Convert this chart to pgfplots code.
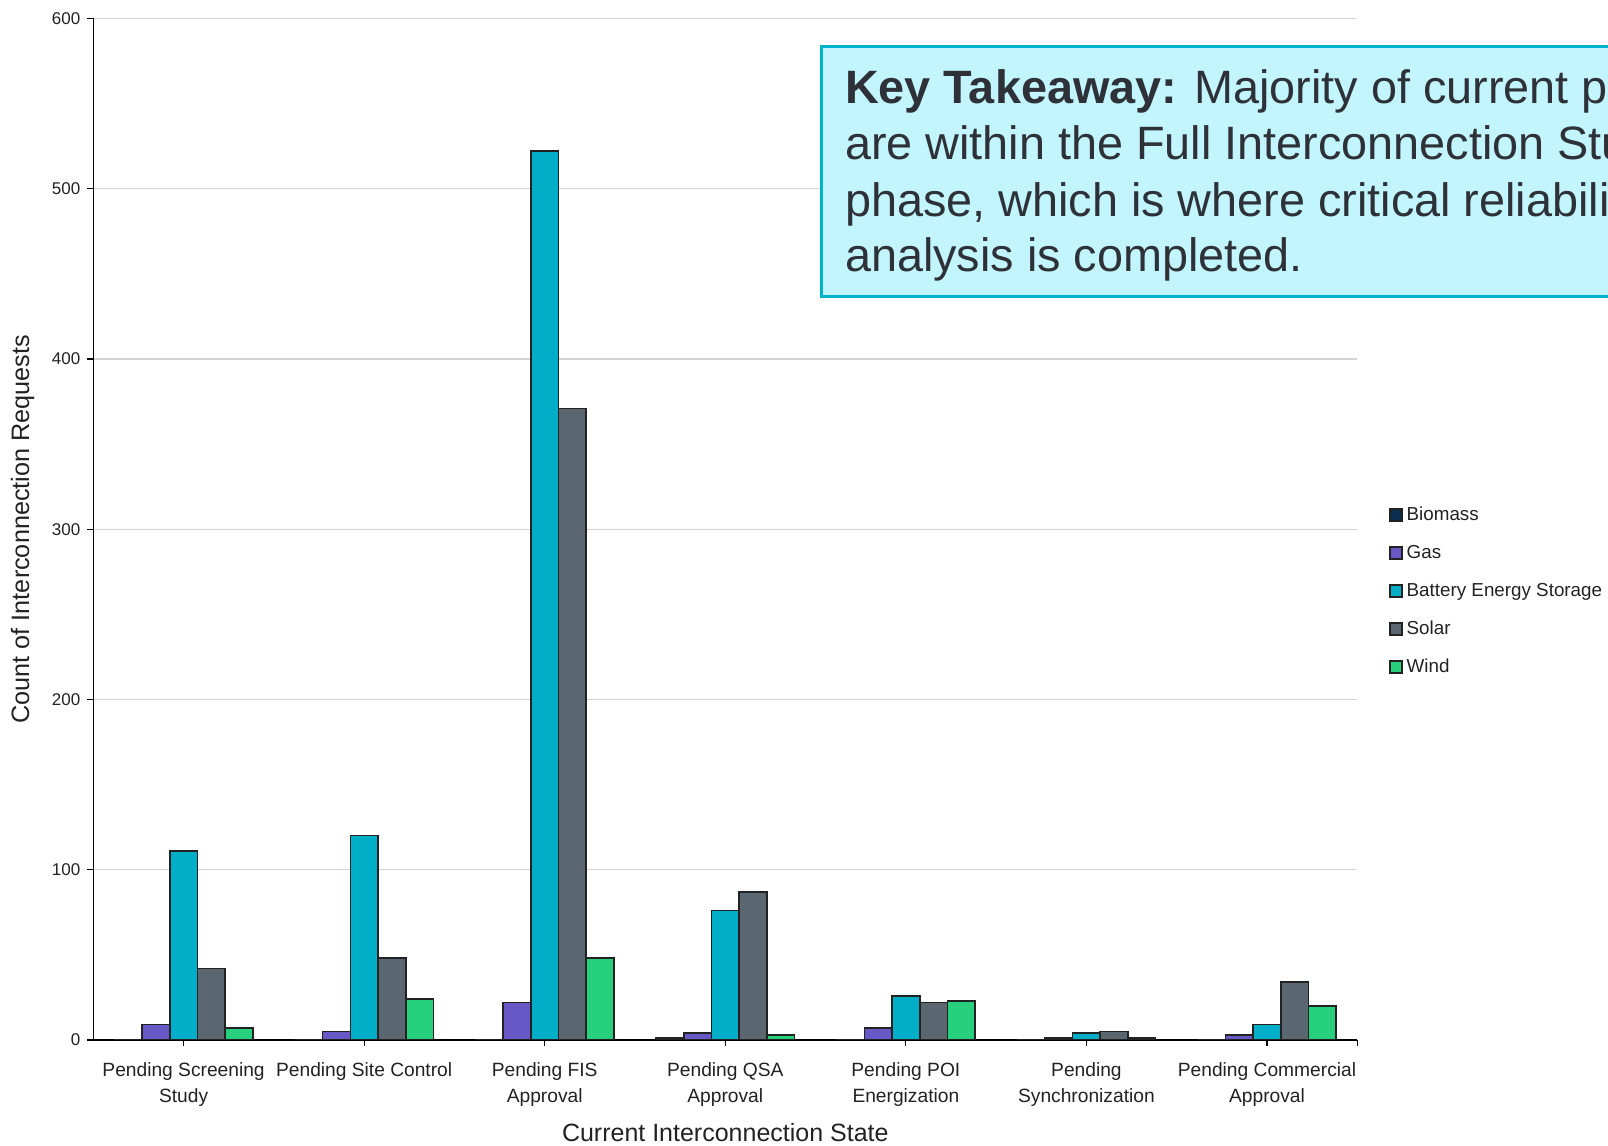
\documentclass[border=0pt]{standalone}
\usepackage{pgfplots}
\usepackage{pgfplotstable}
\pgfplotsset{compat=1.18}
\usepackage{fontspec}
\setmainfont{Liberation Sans}
\definecolor{cBio}{HTML}{0B2D4E}
\definecolor{cGas}{HTML}{6858C6}
\definecolor{cBes}{HTML}{00AEC7}
\definecolor{cSol}{HTML}{5A6670}
\definecolor{cWind}{HTML}{26D07C}
\definecolor{boxfill}{HTML}{C2F5FD}
\definecolor{boxedge}{HTML}{00B2CB}
\definecolor{txt}{HTML}{2E3238}
\definecolor{lbl}{HTML}{222222}
\definecolor{edge}{HTML}{222222}
\pgfplotsset{sqleg/.style={legend image code/.code={\draw[##1,line width=0.7pt] (0pt,-3pt) rectangle (6pt,3pt);}}}
\pgfplotstableread{
x bio gas bes sol wind
0 0 9 111 42 7
1 0 5 120 48 24
2 0 22 522 371 48
3 1 4 76 87 3
4 0 7 26 22 23
5 0 1 4 5 1
6 0 3 9 34 20
}\chartdata
\begin{document}
\begin{tikzpicture}
\path[use as bounding box] (0,0) rectangle (804pt,573pt);
\begin{axis}[
  at={(46.65pt,53pt)}, anchor=south west,
  scale only axis, width=632pt, height=510.75pt,
  ybar=0pt, bar width=13.85pt,
  xmin=-0.5, xmax=6.5, ymin=0, ymax=600,
  xtick={0,1,2,3,4,5,6},
  xticklabels={{Pending Screening\\Study},{Pending Site Control},{Pending FIS\\Approval},{Pending QSA\\Approval},{Pending POI\\Energization},{Pending\\Synchronization},{Pending Commercial\\Approval}},
  xticklabel style={align=center, font=\fontsize{9.6}{13}\selectfont, text=lbl, yshift=-4.6pt},
  extra x ticks={6.5}, extra x tick labels={},
  ytick={0,100,200,300,400,500,600},
  yticklabel style={font=\fontsize{8.5}{10}\selectfont, text=lbl},
  /pgf/number format/assume math mode=true,
  ymajorgrids, grid style={color=black!17, line width=0.7pt},
  axis x line*=bottom, axis y line*=left,
  axis line style={black, line width=0.75pt},
  tick align=outside, major tick length=3pt,
  tick style={black, line width=0.6pt},
  xlabel={Current Interconnection State},
  ylabel={Count of Interconnection Requests},
  xlabel style={at={(axis description cs:0.5,-0.091)}, anchor=center, font=\fontsize{12.5}{14}\selectfont, text=lbl},
  ylabel style={at={(axis description cs:-0.0559,0.5)}, anchor=center, font=\fontsize{12.6}{14}\selectfont, text=lbl},
  legend style={at={(axis description cs:1,0.525)}, anchor=north west, xshift=15.8pt,
    draw=none, fill=none, inner sep=0pt, row sep=8pt,
    font=\fontsize{9.4}{11}\selectfont, text=lbl,
    nodes={inner sep=1pt, text height=7pt, text depth=2pt},
    /tikz/every odd column/.append style={column sep=1pt}},
  legend cell align=left,
]
\addplot[sqleg, fill=cBio, draw=edge, line width=0.8pt] table[x=x,y=bio] {\chartdata};
\addplot[sqleg, fill=cGas, draw=edge, line width=0.8pt] table[x=x,y=gas] {\chartdata};
\addplot[sqleg, fill=cBes, draw=edge, line width=0.8pt] table[x=x,y=bes] {\chartdata};
\addplot[sqleg, fill=cSol, draw=edge, line width=0.8pt] table[x=x,y=sol] {\chartdata};
\addplot[sqleg, fill=cWind, draw=edge, line width=0.8pt] table[x=x,y=wind] {\chartdata};
\legend{Biomass,Gas,Battery Energy Storage,Solar,Wind}
\end{axis}
\begin{scope}
\clip (0,0) rectangle (804pt,573pt);
\draw[boxedge, line width=1.5pt, fill=boxfill] (410.5pt,424.5pt) rectangle (870pt,549.5pt);
\begin{scope}[every node/.style={anchor=base west, inner sep=0pt, font=\fontsize{23.4}{28}\selectfont, text=txt}]
\node at (422.3pt,521.3pt) {\textbf{Key Takeaway:} Majority of current projects};
\node at (422.3pt,493pt) {are within the Full Interconnection Study};
\node at (422.3pt,464.7pt) {phase, which is where critical reliability};
\node at (422.3pt,437.2pt) {analysis is completed.};
\end{scope}
\end{scope}
\end{tikzpicture}
\end{document}
